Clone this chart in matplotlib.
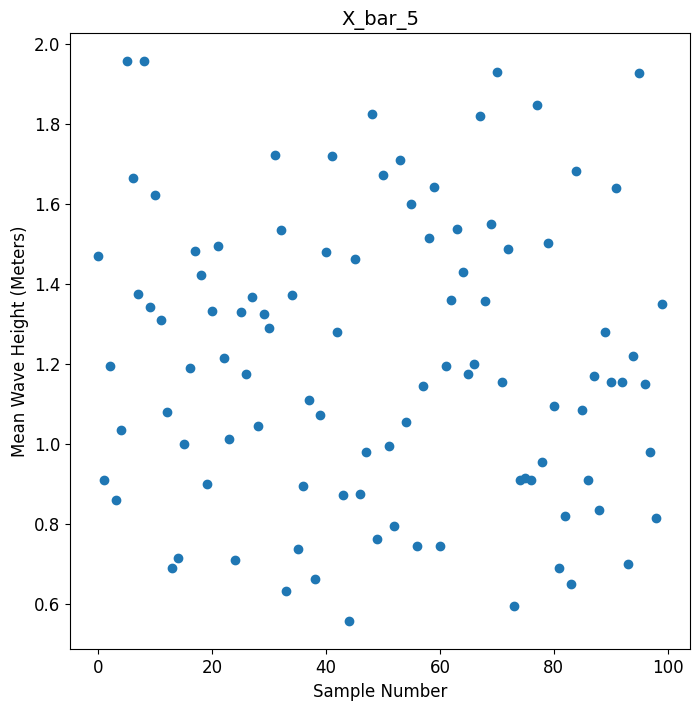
import numpy as np
import matplotlib
matplotlib.use('Agg')
import matplotlib.pyplot as plt

# mean wave height per sample
sample_num = list(range(100))
x_bar_5 = [
    1.470, 0.910, 1.197, 0.860, 1.035, 1.957, 1.665, 1.375, 1.957, 1.343,
    1.622, 1.310, 1.080, 0.690, 0.715, 1.000, 1.190, 1.483, 1.422, 0.902,
    1.333, 1.495, 1.215, 1.013, 0.710, 1.330, 1.177, 1.367, 1.045, 1.325,
    1.290, 1.722, 1.535, 0.633, 1.372, 0.738, 0.897, 1.112, 0.663, 1.073,
    1.480, 1.720, 1.280, 0.873, 0.558, 1.462, 0.875, 0.980, 1.825, 0.763,
    1.673, 0.995, 0.795, 1.710, 1.055, 1.600, 0.745, 1.145, 1.515, 1.643,
    0.745, 1.195, 1.360, 1.537, 1.430, 1.175, 1.202, 1.820, 1.357, 1.550,
    1.930, 1.155, 1.487, 0.597, 0.910, 0.917, 0.912, 1.847, 0.955, 1.502,
    1.097, 0.692, 0.820, 0.652, 1.682, 1.085, 0.910, 1.170, 0.837, 1.280,
    1.157, 1.640, 1.155, 0.702, 1.220, 1.927, 1.150, 0.982, 0.817, 1.350,
]

fig, ax = plt.subplots(figsize=(6.99, 7.10), dpi=100)
fig.subplots_adjust(left=0.1006, right=0.9871, top=0.9531, bottom=0.0855)

ax.scatter(sample_num, x_bar_5, color='#1f77b4')
ax.set_title('X_bar_5', fontsize=14)
ax.set_xlabel('Sample Number', fontsize=12)
ax.set_ylabel('Mean Wave Height (Meters)', fontsize=12)
ax.tick_params(labelsize=12)

plt.savefig('out.png')
plt.close()
